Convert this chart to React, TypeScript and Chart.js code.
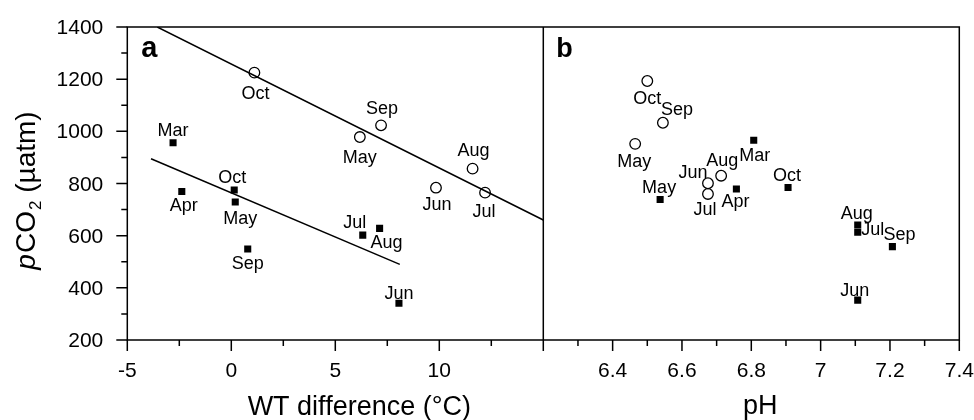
import { useEffect, useRef } from 'react';
import { Chart, registerables } from 'chart.js';
Chart.register(...registerables);

// ---- data ----
const circleMonths = ['May', 'Jun', 'Jul', 'Aug', 'Sep', 'Oct'];
const circleWT = [6.18, 9.84, 12.2, 11.6, 7.2, 1.11];
const circlePco2A = [978, 784, 765, 857, 1023, 1225];
const circlePH = [6.465, 6.675, 6.675, 6.713, 6.545, 6.5];
const circlePco2B = [952, 801, 760, 830, 1033, 1193];

const squareMonths = ['Mar', 'Apr', 'May', 'Jun', 'Jul', 'Aug', 'Sep', 'Oct'];
const squareWT = [-2.8, -2.38, 0.19, 8.06, 6.32, 7.13, 0.79, 0.14];
const squarePco2A = [956, 769, 729, 341, 602, 628, 549, 775];
const squarePH = [6.807, 6.757, 6.537, 7.107, 7.107, 7.107, 7.207, 6.906];
const squarePco2B = [966, 779, 739, 353, 613, 641, 558, 785];

const upperFitWT = [-3.56, 15];
const upperFitPco2 = [1400, 660];
const lowerFitWT = [-3.86, 8.1];
const lowerFitPco2 = [895, 490];

const yTicks = [200, 400, 600, 800, 1000, 1200, 1400];
const yMinorTicks = [300, 500, 700, 900, 1100, 1300];
const wtTicks = [-5, 0, 5, 10];
const wtMinorTicks = [-2.5, 2.5, 7.5, 12.5];
const phTicks = [6.4, 6.6, 6.8, 7, 7.2, 7.4];
const phMinorTicks = [6.3, 6.5, 6.7, 6.9, 7.1, 7.3];
const wtRange = [-5, 15];
const phRange = [6.2, 7.4];
const yRange = [200, 1400];

// label placement (pixel offsets from marker: dx, baseline dy), layout only
const circleALabelPos = [[0, 26], [1, 22], [-1, 24], [1, -13], [1, -11], [1, 26]];
const squareALabelPos = [[0, -7], [2, 19], [5, 22], [0, -4], [-8, -7], [7, 20], [0, 20], [-2, -7]];
const circleBLabelPos = [[-1, 23], [-15, -5], [-3, 21], [1, -10], [14, -8], [0, 23]];
const squareBLabelPos = [[1, 21], [-1, 18], [-1, -6], [-3, -4], [15, 3], [-1, -6], [7, -7], [-1, -6]];

const FONT = '"Liberation Sans", Arial, Helvetica, sans-serif';

const pts = (xs: number[], ys: number[]) => xs.map((x, i) => ({ x, y: ys[i] }));

const decorPlugin = {
  id: 'decor',
  afterDatasetsDraw(chart: any) {
    const ctx = chart.ctx as CanvasRenderingContext2D;
    const ca = chart.chartArea;
    const ys = chart.scales.y;
    const xa = chart.scales.xa;
    const xb = chart.scales.xb;
    ctx.save();
    ctx.strokeStyle = '#000';
    ctx.fillStyle = '#000';
    ctx.lineWidth = 1.5;
    // frame
    ctx.strokeRect(ca.left, ca.top, ca.right - ca.left, ca.bottom - ca.top);
    ctx.beginPath();
    ctx.moveTo(xa.right, ca.top);
    ctx.lineTo(xa.right, ca.bottom + 11);
    ctx.stroke();

    // y ticks
    ctx.font = `21px ${FONT}`;
    ctx.textAlign = 'right';
    ctx.textBaseline = 'alphabetic';
    ctx.beginPath();
    yTicks.forEach((v) => {
      const p = ys.getPixelForValue(v);
      ctx.moveTo(ca.left - 11, p);
      ctx.lineTo(ca.left, p);
      ctx.fillText(String(v), ca.left - 24, p + 7);
    });
    yMinorTicks.forEach((v) => {
      const p = ys.getPixelForValue(v);
      ctx.moveTo(ca.left - 6, p);
      ctx.lineTo(ca.left, p);
    });
    // x ticks
    ctx.textAlign = 'center';
    const xt = (sc: any, major: number[], minor: number[]) => {
      major.forEach((v) => {
        const p = sc.getPixelForValue(v);
        ctx.moveTo(p, ca.bottom);
        ctx.lineTo(p, ca.bottom + 11);
        ctx.fillText(String(v), p, ca.bottom + 37);
      });
      minor.forEach((v) => {
        const p = sc.getPixelForValue(v);
        ctx.moveTo(p, ca.bottom);
        ctx.lineTo(p, ca.bottom + 6);
      });
    };
    xt(xa, wtTicks, wtMinorTicks);
    xt(xb, phTicks, phMinorTicks);
    ctx.stroke();

    // axis titles
    ctx.font = `27px ${FONT}`;
    ctx.textAlign = 'center';
    ctx.fillText('WT difference (°C)', (xa.left + xa.right) / 2 + 24, 415);
    ctx.fillText('pH', (xb.left + xb.right) / 2 + 9, 414);

    // y title with italic p and subscript 2
    ctx.save();
    const cy = (ca.top + ca.bottom) / 2 + 8;
    ctx.translate(35, cy);
    ctx.rotate(-Math.PI / 2);
    ctx.textAlign = 'left';
    const partP = 'p', partCO = 'CO', partSub = '2', partRest = ' (µatm)';
    ctx.font = `italic 28px ${FONT}`;
    const wP = ctx.measureText(partP).width;
    ctx.font = `28px ${FONT}`;
    const wCO = ctx.measureText(partCO).width;
    const wRest = ctx.measureText(partRest).width;
    ctx.font = `17px ${FONT}`;
    const wSub = ctx.measureText(partSub).width;
    let x0 = -(wP + wCO + wSub + wRest) / 2;
    ctx.font = `italic 28px ${FONT}`;
    ctx.fillText(partP, x0, 0);
    x0 += wP + 1;
    ctx.font = `28px ${FONT}`;
    ctx.fillText(partCO, x0, 0);
    x0 += wCO + 1;
    ctx.font = `17px ${FONT}`;
    ctx.fillText(partSub, x0, 6);
    x0 += wSub;
    ctx.font = `28px ${FONT}`;
    ctx.fillText(partRest, x0, 0);
    ctx.restore();

    // panel letters
    ctx.textAlign = 'left';
    ctx.font = `bold 29px ${FONT}`;
    ctx.fillText('a', ca.left + 14, ca.top + 30);
    ctx.font = `bold 27px ${FONT}`;
    ctx.fillText('b', xb.left + 13, ca.top + 30);

    // month labels
    ctx.font = `18px ${FONT}`;
    ctx.textAlign = 'center';
    const labelSets: [number, string[], number[][]][] = [
      [2, circleMonths, circleALabelPos],
      [3, squareMonths, squareALabelPos],
      [4, circleMonths, circleBLabelPos],
      [5, squareMonths, squareBLabelPos],
    ];
    labelSets.forEach(([di, names, pos]) => {
      const meta = chart.getDatasetMeta(di);
      meta.data.forEach((el: any, j: number) => {
        ctx.fillText(names[j], el.x + pos[j][0], el.y + pos[j][1]);
      });
    });
    ctx.restore();
  },
};

export default function App() {
  const ref = useRef<HTMLCanvasElement>(null);
  useEffect(() => {
    if (!ref.current) return;
    const hidden = {
      display: true,
      ticks: { display: false },
      grid: { display: false },
      border: { display: false },
    };
    const lineStyle = {
      type: 'line' as const,
      showLine: true,
      borderColor: '#000',
      borderWidth: 1.5,
      pointRadius: 0,
      fill: false,
      tension: 0,
    };
    const chart = new Chart(ref.current, {
      type: 'scatter',
      data: {
        datasets: [
          { ...lineStyle, data: pts(upperFitWT, upperFitPco2), xAxisID: 'xa', yAxisID: 'y' } as any,
          { ...lineStyle, data: pts(lowerFitWT, lowerFitPco2), xAxisID: 'xa', yAxisID: 'y' } as any,
          {
            data: pts(circleWT, circlePco2A), xAxisID: 'xa', yAxisID: 'y',
            pointStyle: 'circle', pointRadius: 5.3, borderWidth: 1.3,
            borderColor: '#000', backgroundColor: 'rgba(255,255,255,0)',
          },
          {
            data: pts(squareWT, squarePco2A), xAxisID: 'xa', yAxisID: 'y',
            pointStyle: 'rect', pointRadius: 5, borderWidth: 0,
            borderColor: '#000', backgroundColor: '#000',
          },
          {
            data: pts(circlePH, circlePco2B), xAxisID: 'xb', yAxisID: 'y',
            pointStyle: 'circle', pointRadius: 5.3, borderWidth: 1.3,
            borderColor: '#000', backgroundColor: 'rgba(255,255,255,0)',
          },
          {
            data: pts(squarePH, squarePco2B), xAxisID: 'xb', yAxisID: 'y',
            pointStyle: 'rect', pointRadius: 5, borderWidth: 0,
            borderColor: '#000', backgroundColor: '#000',
          },
        ],
      },
      options: {
        animation: false,
        responsive: false,
        devicePixelRatio: 1,
        layout: { padding: { top: 27, right: 14.7, left: 0, bottom: 0 } },
        plugins: { legend: { display: false }, tooltip: { enabled: false } },
        scales: {
          xa: {
            ...hidden, type: 'linear', position: 'bottom', stack: 'bottom', stackWeight: 1,
            min: wtRange[0], max: wtRange[1],
            afterFit: (s: any) => { s.height = 80; },
          },
          xb: {
            ...hidden, type: 'linear', position: 'bottom', stack: 'bottom', stackWeight: 1,
            min: phRange[0], max: phRange[1],
            afterFit: (s: any) => { s.height = 80; },
          },
          y: {
            ...hidden, type: 'linear', position: 'left',
            min: yRange[0], max: yRange[1],
            afterFit: (s: any) => { s.width = 127.3; },
          },
        } as any,
      },
      plugins: [decorPlugin],
    });
    return () => chart.destroy();
  }, []);
  return (
    <div style={{ position: 'absolute', left: 0, top: 0, width: 974, height: 420, background: '#fff' }}>
      <canvas ref={ref} width={974} height={420} />
    </div>
  );
}
